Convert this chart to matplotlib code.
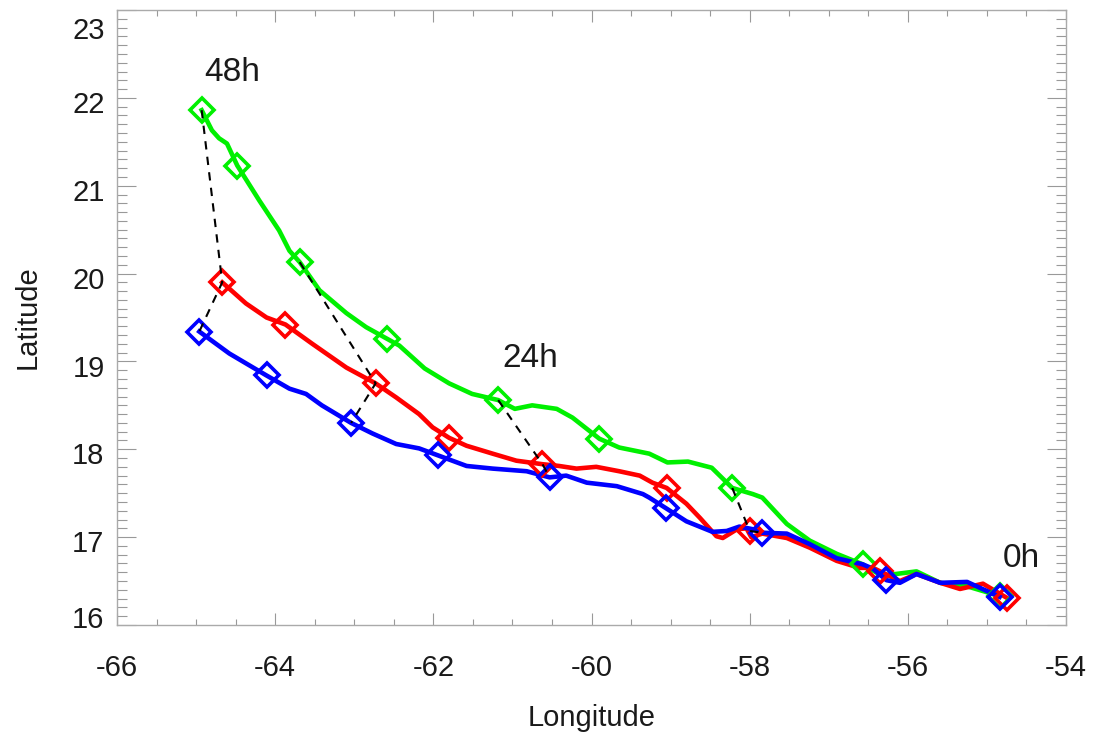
import matplotlib
matplotlib.use("Agg")
import matplotlib.pyplot as plt
from matplotlib.ticker import MultipleLocator
from matplotlib.transforms import ScaledTranslation

plt.rcParams['font.family'] = ['Liberation Sans', 'DejaVu Sans']
plt.rcParams['axes.unicode_minus'] = False

# Track lines (longitude, latitude), from 48h back to 0h
green_lon = [-64.93, -64.80, -64.71, -64.61, -64.48, -64.20, -63.95, -63.82, -63.69, -63.44,
             -63.10, -62.85, -62.59, -62.43, -62.11, -61.80, -61.51, -61.18, -60.97, -60.75,
             -60.44, -60.24, -59.90, -59.65, -59.27, -59.04, -58.78, -58.48, -58.22, -57.96,
             -57.84, -57.53, -57.24, -56.90, -56.57, -56.33, -55.89, -55.59, -55.25, -54.84]
green_lat = [21.86, 21.63, 21.54, 21.48, 21.23, 20.83, 20.49, 20.26, 20.13, 19.81,
             19.55, 19.39, 19.26, 19.18, 18.92, 18.75, 18.63, 18.56, 18.46, 18.50,
             18.46, 18.36, 18.12, 18.02, 17.95, 17.85, 17.86, 17.79, 17.56, 17.49,
             17.45, 17.15, 16.96, 16.81, 16.69, 16.56, 16.61, 16.48, 16.44, 16.33]

red_lon = [-64.67, -64.37, -64.11, -63.87, -63.53, -63.10, -62.73, -62.47, -62.18, -62.01,
           -61.80, -61.58, -61.25, -60.95, -60.62, -60.41, -60.19, -59.94, -59.65, -59.39,
           -59.23, -59.05, -58.80, -58.63, -58.42, -58.34, -58.16, -58.04, -57.98, -57.84,
           -57.53, -57.24, -56.90, -56.61, -56.44, -56.35, -56.10, -55.89, -55.59, -55.34,
           -55.05, -54.75]
red_lat = [19.90, 19.66, 19.50, 19.42, 19.20, 18.93, 18.75, 18.59, 18.40, 18.25,
           18.13, 18.04, 17.95, 17.87, 17.83, 17.81, 17.78, 17.80, 17.75, 17.70,
           17.62, 17.56, 17.38, 17.22, 17.01, 16.99, 17.09, 17.10, 17.00, 17.04,
           16.99, 16.88, 16.73, 16.65, 16.65, 16.61, 16.50, 16.58, 16.48, 16.41,
           16.47, 16.31]

blue_lon = [-64.96, -64.58, -64.11, -63.82, -63.61, -63.41, -63.04, -62.77, -62.47, -62.18,
            -61.94, -61.58, -61.25, -60.82, -60.53, -60.32, -60.06, -59.68, -59.35, -59.27,
            -59.06, -58.80, -58.47, -58.29, -58.13, -57.96, -57.84, -57.53, -57.24, -56.90,
            -56.57, -56.44, -56.27, -56.10, -55.89, -55.59, -55.25, -54.84]
blue_lat = [19.34, 19.09, 18.84, 18.69, 18.63, 18.50, 18.30, 18.18, 18.06, 18.01,
            17.93, 17.81, 17.78, 17.75, 17.68, 17.70, 17.62, 17.58, 17.49, 17.45,
            17.33, 17.18, 17.06, 17.07, 17.12, 17.09, 17.05, 17.04, 16.92, 16.76,
            16.69, 16.64, 16.51, 16.48, 16.58, 16.48, 16.49, 16.32]

# 6-hourly positions (48h ... 0h)
green_mk_lon = [-64.93, -64.48, -63.69, -62.59, -61.18, -59.90, -58.22, -56.57, -54.84]
green_mk_lat = [21.86, 21.23, 20.13, 19.26, 18.56, 18.12, 17.56, 16.69, 16.33]
red_mk_lon = [-64.67, -63.87, -62.73, -61.80, -60.62, -59.05, -58.00, -56.35, -54.75]
red_mk_lat = [19.90, 19.42, 18.75, 18.13, 17.83, 17.56, 17.07, 16.61, 16.31]
blue_mk_lon = [-64.96, -64.11, -63.04, -61.94, -60.53, -59.06, -57.84, -56.27, -54.84]
blue_mk_lat = [19.34, 18.84, 18.30, 17.93, 17.68, 17.33, 17.05, 16.51, 16.32]

connect_idx = [0, 2, 4, 6]  # 48h, 36h, 24h, 12h

labels = ["48h", "24h", "0h"]
label_lon = [-64.54, -60.78, -54.56]
label_lat = [22.29, 19.03, 16.76]

fig = plt.figure(figsize=(10.96, 7.37), dpi=100)
ax = fig.add_axes([0.1068, 0.152, 0.8658, 0.8344])

tracks = [
    (green_lon, green_lat, green_mk_lon, green_mk_lat, '#00f000'),
    (red_lon, red_lat, red_mk_lon, red_mk_lat, '#ff0000'),
    (blue_lon, blue_lat, blue_mk_lon, blue_mk_lat, '#0000ff'),
]
for lon, lat, mlon, mlat, c in tracks:
    ax.plot(lon, lat, color=c, lw=3.3, solid_joinstyle='round', zorder=2)
    ax.plot(mlon, mlat, ls='none', marker='D', ms=12, mfc='none', mec=c, mew=2.6, zorder=3)

for i in connect_idx:
    xs = [green_mk_lon[i], red_mk_lon[i], blue_mk_lon[i]]
    ys = [green_mk_lat[i], red_mk_lat[i], blue_mk_lat[i]]
    ax.plot(xs, ys, color='black', lw=1.5, ls=(0, (4, 3.5)), zorder=4)

for t, x, y in zip(labels, label_lon, label_lat):
    ax.text(x, y, t, fontsize=24, color='#1a1a1a', ha='center', va='center')

ax.set_xlim(-66, -54)
ax.set_ylim(16, 23)
ax.xaxis.set_major_locator(MultipleLocator(2))
ax.xaxis.set_minor_locator(MultipleLocator(0.5))
ax.yaxis.set_major_locator(MultipleLocator(1))
ax.yaxis.set_minor_locator(MultipleLocator(0.1))

tc = '#999999'
ax.tick_params(axis='x', which='major', direction='in', length=8.5, width=0.8, color=tc,
               top=True, bottom=True, pad=21, labelsize=21, labelcolor='#1a1a1a')
ax.tick_params(axis='x', which='minor', direction='in', length=4.3, width=0.8, color=tc,
               top=True, bottom=True)
ax.tick_params(axis='y', which='major', direction='in', length=14, width=0.8, color=tc,
               left=True, right=True, pad=9, labelsize=21, labelcolor='#1a1a1a')
ax.tick_params(axis='y', which='minor', direction='in', length=7, width=0.8, color=tc,
               left=True, right=True)
for s in ax.spines.values():
    s.set_color('#aaaaaa')
    s.set_linewidth(1.0)

ax.set_xlabel('Longitude', fontsize=21, color='#1a1a1a', labelpad=16)
ax.set_ylabel('Latitude', fontsize=21, color='#1a1a1a', labelpad=22)

# small vertical offsets of the latitude tick labels (end labels kept inside the frame)
fig.canvas.draw()
for lab, val in zip(ax.get_yticklabels(), ax.get_yticks()):
    if val >= 22.99:
        dy = -13
    elif val <= 16.01:
        dy = 6
    else:
        dy = -3
    lab.set_transform(lab.get_transform() + ScaledTranslation(0, dy / 72, fig.dpi_scale_trans))

fig.savefig('out.png', dpi=100)
